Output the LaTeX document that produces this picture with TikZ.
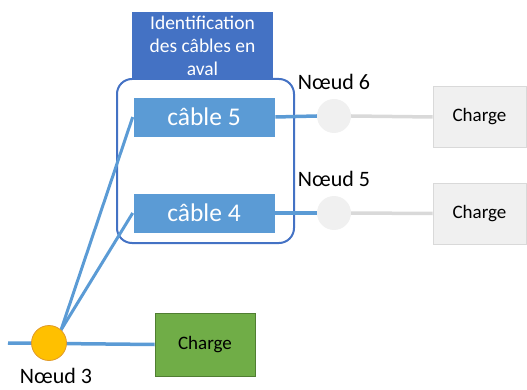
\documentclass[tikz,border=0pt]{standalone}
\usepackage{fontspec}
\setmainfont{Carlito}
\definecolor{dblue}{HTML}{4472C4}
\definecolor{lblue}{HTML}{5B9BD5}
\definecolor{lgray}{HTML}{F0F0F0}
\definecolor{mgray}{HTML}{D9D9D9}
\definecolor{gold}{HTML}{FFC000}
\definecolor{orng}{HTML}{E09A2A}
\definecolor{grn}{HTML}{70AD47}
\definecolor{dgrn}{HTML}{507E32}
\begin{document}
\begin{tikzpicture}[x=1pt,y=-1pt,
  cablebox/.style={fill=lblue,draw=white,line width=0.6pt,minimum width=142pt,minimum height=40pt,text=white,font=\fontsize{25.5}{28}\selectfont,inner sep=0pt},
  chargebox/.style={fill=lgray,draw=mgray,line width=0.6pt,minimum width=93pt,minimum height=61pt,font=\fontsize{19}{22}\selectfont,inner sep=0pt},
  graynode/.style={circle,fill=lgray,minimum size=34pt,inner sep=0pt},
  bluewire/.style={draw=lblue,line width=3.5pt},
  graywire/.style={draw=mgray,line width=3.5pt},
  lbl/.style={font=\fontsize{22}{24}\selectfont,inner sep=0pt}]
\useasboundingbox (0,0) rectangle (527,390);
% identification box
\node[fill=dblue,minimum width=141pt,minimum height=67pt,inner sep=0pt,text=white,align=center,font=\fontsize{19.5}{23}\selectfont] (ident) at (202.5,45.5) {Identification\\des câbles en\\aval};
\node[draw=dblue,line width=2pt,rounded corners=15pt,minimum width=177pt,minimum height=164pt,inner sep=0pt] (group) at (205.5,161) {};
% cable boxes
\node[cablebox] (c5) at (204,117) {câble 5};
\node[cablebox] (c4) at (204,213) {câble 4};
% gray nodes
\node[graynode] (n6) at (334,116) {};
\node[graynode] (n5) at (334,213) {};
\node[lbl,anchor=south] (l6) at (334,90) {Nœud 6};
\node[lbl,anchor=south] (l5) at (334,187) {Nœud 5};
% charges right
\node[chargebox] (ch6) at (479.5,117) {Charge};
\node[chargebox] (ch5) at (479.5,213.5) {Charge};
\draw[bluewire] (c5.east) -- (n6.west);
\draw[bluewire] (c4.east) -- (n5.west);
\draw[graywire] (n6.east) -- (ch6.west);
\draw[graywire] (n5.east) -- (ch5.west);
% node 3
\coordinate (left) at (8,343);
\coordinate (j) at (61,330);
\node[fill=grn,draw=dgrn,line width=0.6pt,minimum width=100pt,minimum height=63pt,inner sep=0pt,font=\fontsize{19}{22}\selectfont] (chg) at (205,344.5) {Charge};
\draw[bluewire] (left) -- (chg.west);
\draw[draw=lblue,line width=3pt] (j) -- (c5.west);
\draw[draw=lblue,line width=3pt] (j) -- (c4.west);
\node[circle,fill=gold,draw=orng,line width=0.8pt,minimum size=35pt,inner sep=0pt] (n3) at (49,343) {};
\node[lbl,anchor=north] (l3) at (56,368) {Nœud 3};
\end{tikzpicture}
\end{document}
